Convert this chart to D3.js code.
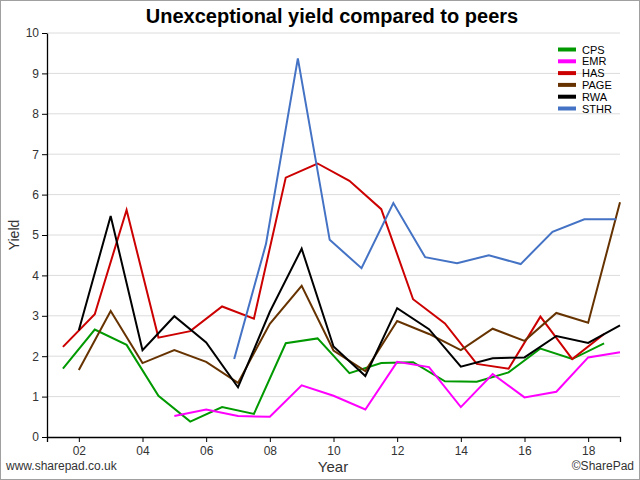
<!DOCTYPE html>
<html lang="en">

<head>
    <meta charset="UTF-8">
    <title>Unexceptional yield compared to peers</title>
    <script src="https://cdn.jsdelivr.net/npm/d3@7"></script>
    <style>
        body { margin: 0; background: #fff; }
        text { font-family: "Liberation Sans", Arial, sans-serif; }
    </style>
</head>

<body>
    <div id="container"></div>
</body>
<script>

    // year-end positions (decimal years) and yields for each company
    const cpsYears = [2001.5, 2002.5, 2003.5, 2004.5, 2005.5, 2006.5, 2007.5, 2008.5, 2009.5, 2010.5, 2011.5, 2012.5, 2013.5, 2014.5, 2015.5, 2016.5, 2017.5, 2018.5];
    const cpsYield = [1.69, 2.66, 2.28, 1.02, 0.38, 0.74, 0.57, 2.32, 2.44, 1.58, 1.83, 1.85, 1.38, 1.37, 1.60, 2.19, 1.93, 2.32];

    const emrYears = [2005, 2006, 2007, 2008, 2009, 2010, 2011, 2012, 2013, 2014, 2015, 2016, 2017, 2018, 2019];
    const emrYield = [0.52, 0.68, 0.52, 0.50, 1.28, 1.02, 0.68, 1.86, 1.73, 0.74, 1.56, 0.98, 1.12, 1.97, 2.10];

    const hasYears = [2001.5, 2002.5, 2003.5, 2004.5, 2005.5, 2006.5, 2007.5, 2008.5, 2009.5, 2010.5, 2011.5, 2012.5, 2013.5, 2014.5, 2015.5, 2016.5, 2017.5, 2018.5];
    const hasYield = [2.23, 3.04, 5.62, 2.46, 2.62, 3.23, 2.93, 6.42, 6.77, 6.34, 5.64, 3.41, 2.81, 1.81, 1.69, 2.98, 1.93, 2.55];

    const pageYears = [2002, 2003, 2004, 2005, 2006, 2007, 2008, 2009, 2010, 2011, 2012, 2013, 2014, 2015, 2016, 2017, 2018, 2019];
    const pageYield = [1.66, 3.12, 1.83, 2.15, 1.86, 1.34, 2.80, 3.74, 2.14, 1.63, 2.87, 2.55, 2.15, 2.68, 2.38, 3.07, 2.83, 5.81];

    const rwaYears = [2002, 2003, 2004, 2005, 2006, 2007, 2008, 2009, 2010, 2011, 2012, 2013, 2014, 2015, 2016, 2017, 2018, 2019];
    const rwaYield = [2.64, 5.47, 2.15, 2.99, 2.34, 1.23, 3.10, 4.66, 2.24, 1.51, 3.19, 2.67, 1.74, 1.95, 1.97, 2.50, 2.33, 2.76];

    const sthrYears = [2006.88, 2007.88, 2008.88, 2009.88, 2010.88, 2011.88, 2012.88, 2013.88, 2014.88, 2015.88, 2016.88, 2017.88, 2018.88];
    const sthrYield = [1.93, 4.78, 9.37, 4.88, 4.18, 5.79, 4.45, 4.30, 4.50, 4.28, 5.08, 5.39, 5.39];

    const seriesNames = ["CPS", "EMR", "HAS", "PAGE", "RWA", "STHR"];
    const seriesColors = ["#009900", "#ff00ff", "#cc0000", "#663300", "#000000", "#4472c4"];

    const xTicks = [2002, 2004, 2006, 2008, 2010, 2012, 2014, 2016, 2018];
    const yTicks = [0, 1, 2, 3, 4, 5, 6, 7, 8, 9, 10];

    const series = [
        [cpsYears, cpsYield], [emrYears, emrYield], [hasYears, hasYield],
        [pageYears, pageYield], [rwaYears, rwaYield], [sthrYears, sthrYield]
    ].map(function (s, i) {
        return { name: seriesNames[i], color: seriesColors[i], pts: s[0].map(function (x, j) { return [x, s[1][j]]; }) };
    });

    const W = 640, H = 480;
    const m = { left: 47, right: 20, top: 33, bottom: 43 };

    const svg = d3.create("svg")
        .attr("width", W)
        .attr("height", H);

    // outer frame
    svg.append("rect")
        .attr("x", 0.5).attr("y", 0.5)
        .attr("width", W - 1).attr("height", H - 1)
        .attr("fill", "#fff").attr("stroke", "#a0a0a0");

    const x = d3.scaleLinear().domain([2001, 2019]).range([m.left, W - m.right]);
    const y = d3.scaleLinear().domain([0, 10]).range([H - m.bottom, m.top]);

    // gridlines
    svg.append("g")
        .selectAll("line")
        .data(yTicks.slice(1))
        .enter()
        .append("line")
        .attr("x1", m.left).attr("x2", W - m.right)
        .attr("y1", function (d) { return y(d); })
        .attr("y2", function (d) { return y(d); })
        .attr("stroke", "#dcdcdc");

    // axes
    const yAxis = svg.append("g")
        .attr("transform", "translate(" + m.left + ",0)")
        .call(d3.axisLeft(y).tickValues(yTicks).tickSize(5).tickSizeOuter(0).tickPadding(3));
    const xAxis = svg.append("g")
        .attr("transform", "translate(0," + (H - m.bottom) + ")")
        .call(d3.axisBottom(x).tickValues(xTicks).tickSize(5).tickSizeOuter(5).tickPadding(4)
            .tickFormat(function (d) { return String(d % 100).padStart(2, "0"); }));
    [xAxis, yAxis].forEach(function (a) {
        a.selectAll("text").attr("font-size", 12).attr("fill", "#333")
            .attr("font-family", '"Liberation Sans", Arial, sans-serif');
        a.select(".domain").attr("stroke", "#000").attr("stroke-width", 1.3);
        a.selectAll(".tick line").attr("stroke", "#000");
    });

    // lines
    const line = d3.line()
        .x(function (d) { return x(d[0]); })
        .y(function (d) { return y(d[1]); });

    svg.append("g")
        .selectAll("path")
        .data(series)
        .enter()
        .append("path")
        .attr("fill", "none")
        .attr("stroke", function (d) { return d.color; })
        .attr("stroke-width", 2)
        .attr("stroke-linejoin", "miter")
        .attr("d", function (d) { return line(d.pts); });

    // legend
    const lg = svg.append("g")
        .selectAll("g")
        .data(series)
        .enter()
        .append("g")
        .attr("transform", function (d, i) { return "translate(558," + (49.5 + i * 11.8) + ")"; });
    lg.append("line")
        .attr("x1", 0).attr("x2", 18)
        .attr("stroke", function (d) { return d.color; })
        .attr("stroke-width", 4);
    lg.append("text")
        .attr("x", 24).attr("y", 4)
        .attr("font-size", 11)
        .attr("fill", "#000")
        .text(function (d) { return d.name; });

    // titles
    svg.append("text")
        .attr("x", 332).attr("y", 23)
        .attr("text-anchor", "middle")
        .attr("font-size", 20).attr("font-weight", "bold")
        .text("Unexceptional yield compared to peers");
    svg.append("text")
        .attr("transform", "translate(19,235) rotate(-90)")
        .attr("text-anchor", "middle")
        .attr("font-size", 14).attr("fill", "#333")
        .text("Yield");
    svg.append("text")
        .attr("x", 333).attr("y", 472)
        .attr("text-anchor", "middle")
        .attr("font-size", 15).attr("fill", "#333")
        .text("Year");
    svg.append("text")
        .attr("x", 6).attr("y", 470)
        .attr("font-size", 12).attr("fill", "#333")
        .text("www.sharepad.co.uk");
    svg.append("text")
        .attr("x", 634).attr("y", 470)
        .attr("text-anchor", "end")
        .attr("font-size", 12).attr("fill", "#333")
        .text("\u00A9SharePad");

    d3.select("#container").node().append(svg.node());

</script>

</html>
